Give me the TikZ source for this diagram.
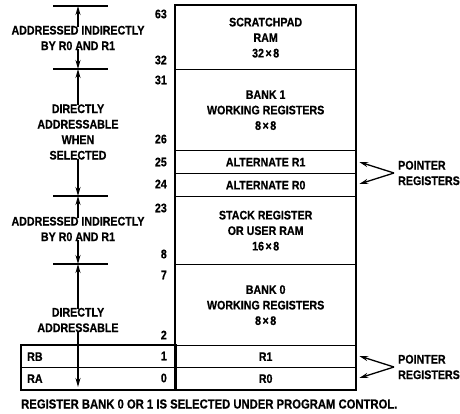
\documentclass[tikz,border=0pt]{standalone}
\usepackage{fontspec}
\setmainfont{Liberation Sans Bold}[FakeStretch=0.86, FakeBold=0.6]
\usetikzlibrary{arrows.meta}
\begin{document}
\begin{tikzpicture}[x=1pt,y=-1pt,
  txt/.style={font=\fontsize{12.4}{15.5}\selectfont, inner sep=0pt, align=center},
  cell/.style={txt, draw, line width=1.3pt, anchor=north west, minimum width=180pt},
  num/.style={txt, anchor=east},
  tick/.style={line width=1.3pt},
  arr/.style={line width=1.3pt, -{Stealth[length=9pt,width=5pt]}},
  parr/.style={line width=1.3pt, -{Stealth[length=9pt,width=5pt]}}
]
\useasboundingbox (0,0) rectangle (460,413);
% cells
\node[cell, minimum height=64pt] (scr) at (175,5) {SCRATCHPAD\\RAM\\32\kern1.5pt×\kern1.5pt8};
\node[cell, minimum height=81pt] (bk1) at (175,69) {BANK 1\\WORKING REGISTERS\\8\kern1.5pt×\kern1.5pt8};
\node[cell, minimum height=23pt] (alt1) at (175,150) {ALTERNATE R1};
\node[cell, minimum height=23pt] (alt0) at (175,173) {ALTERNATE R0};
\node[cell, minimum height=68pt] (stk) at (175,196) {STACK REGISTER\\OR USER RAM\\16\kern1.5pt×\kern1.5pt8};
\node[cell, minimum height=81pt] (bk0) at (175,264) {BANK 0\\WORKING REGISTERS\\8\kern1.5pt×\kern1.5pt8};
\node[cell, minimum height=22pt] (r1) at (175,345) {R1};
\node[cell, minimum height=22pt] (r0) at (175,367) {R0};
\draw[line width=2pt] (scr.north west) rectangle (r0.south east);
% left register box
\node[cell, minimum width=154pt, minimum height=22pt] (rb) at (21,345) {};
\node[cell, minimum width=154pt, minimum height=22pt] (ra) at (21,367) {};
\draw[line width=2pt] (rb.north west) rectangle (ra.south east);
\node[txt, anchor=west] at ([xshift=6pt]rb.west) {RB};
\node[txt, anchor=west] at ([xshift=6pt]ra.west) {RA};
% address numbers
\foreach \n/\y in {63/14,32/60,31/80,26/139,25/162,24/184,23/208,8/254,7/275,2/335,1/356,0/378}
  \node[num] at (167,\y) {\n};
% left annotations
\coordinate (t0) at (78,6);
\coordinate (t1) at (78,69);
\coordinate (t2) at (78,196);
\coordinate (t3) at (78,264);
\coordinate (t4) at (78,387);
\foreach \t in {t0,t1,t2,t3}
  \draw[tick] ([xshift=-25pt]\t) -- ([xshift=30pt]\t);
\node[txt] (a1) at (78,38) {ADDRESSED INDIRECTLY\\BY R0 AND R1};
\node[txt] (d1) at (78,132) {DIRECTLY\\ADDRESSABLE\\WHEN\\SELECTED};
\node[txt] (a2) at (78,229) {ADDRESSED INDIRECTLY\\BY R0 AND R1};
\node[txt] (d2) at (78,320) {DIRECTLY\\ADDRESSABLE};
\draw[arr] ([yshift=-1pt]a1.north) -- (t0);
\draw[arr] ([yshift=1pt]a1.south) -- (t1);
\draw[arr] ([yshift=-1pt]d1.north) -- (t1);
\draw[arr] ([yshift=1pt]d1.south) -- (t2);
\draw[arr] ([yshift=-1pt]a2.north) -- (t2);
\draw[arr] ([yshift=1pt]a2.south) -- (t3);
\draw[arr] ([yshift=-1pt]d2.north) -- (t3);
\draw[arr] ([yshift=1pt]d2.south) -- (t4);
% pointer registers
\coordinate (p1) at (394,173);
\coordinate (p2) at (394,367);
\node[txt, align=left, anchor=west] (pr1) at (398,173) {POINTER\\REGISTERS};
\node[txt, align=left, anchor=west] (pr2) at (398,367) {POINTER\\REGISTERS};
\draw[parr] (p1) -- ([xshift=3pt,yshift=-11pt]alt1.east |- p1);
\draw[parr] (p1) -- ([xshift=3pt,yshift=11pt]alt0.east |- p1);
\draw[parr] (p2) -- ([xshift=3pt,yshift=-11pt]r1.east |- p2);
\draw[parr] (p2) -- ([xshift=3pt,yshift=11pt]r0.east |- p2);
% caption
\node[txt, anchor=west, font=\fontsize{13.1}{15.5}\selectfont] (cap) at (21,404) {REGISTER BANK 0 OR 1 IS SELECTED UNDER PROGRAM CONTROL.};
\end{tikzpicture}
\end{document}
